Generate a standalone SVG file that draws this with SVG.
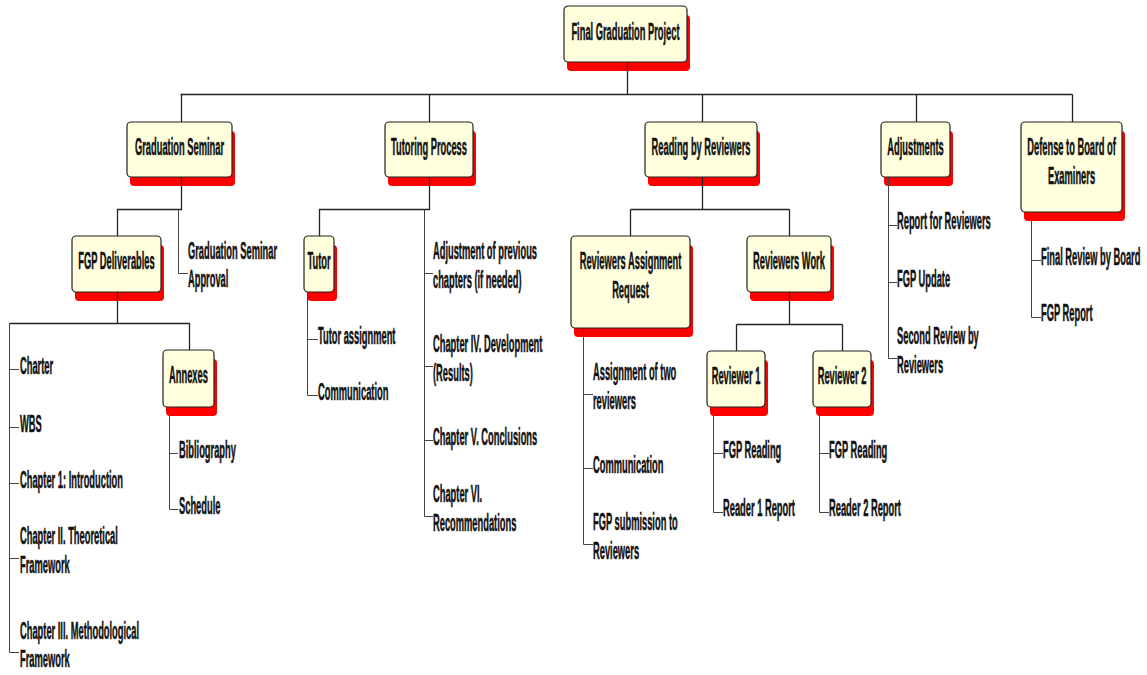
<svg xmlns="http://www.w3.org/2000/svg" width="1147" height="675" viewBox="0 0 1147 675">
  <style>
    .sh { fill: #ff0000; }
    .box { fill: #ffffdd; stroke: #222; stroke-width: 1.2; }
    .t { font-family: "Liberation Sans", Arial, sans-serif; font-weight: bold; font-size: 23.3px; fill: #111; stroke: #111; stroke-width: 0.5; }
    .c { text-anchor: middle; }
    .tree { fill: none; stroke: #222; stroke-width: 1.3; }
    .leaf { fill: none; stroke: #444; stroke-width: 1; }
  </style>
  <rect width="1147" height="675" fill="#ffffff"/>

  <!-- boxes -->
  <g id="n-root">
    <rect class="sh" x="567" y="15" width="123" height="56" rx="4"/>
    <rect class="box" x="564" y="6" width="123" height="56" rx="4"/>
    <text class="t c" transform="translate(625.5,39.5) scale(0.4,1)">Final Graduation Project</text>
  </g>
  <g id="n-seminar">
    <rect class="sh" x="130" y="131" width="105" height="55" rx="4"/>
    <rect class="box" x="127" y="122" width="105" height="55" rx="4"/>
    <text class="t c" transform="translate(179.5,155) scale(0.4,1)">Graduation Seminar</text>
  </g>
  <g id="n-tutoring">
    <rect class="sh" x="388" y="131" width="88" height="55" rx="4"/>
    <rect class="box" x="385" y="122" width="88" height="55" rx="4"/>
    <text class="t c" transform="translate(429,155) scale(0.4,1)">Tutoring Process</text>
  </g>
  <g id="n-reading">
    <rect class="sh" x="648" y="131" width="112" height="55" rx="4"/>
    <rect class="box" x="645" y="122" width="112" height="55" rx="4"/>
    <text class="t c" transform="translate(701,155) scale(0.4,1)">Reading by Reviewers</text>
  </g>
  <g id="n-adjust">
    <rect class="sh" x="884" y="131" width="69" height="55" rx="4"/>
    <rect class="box" x="881" y="122" width="69" height="55" rx="4"/>
    <text class="t c" transform="translate(915.5,155) scale(0.4,1)">Adjustments</text>
  </g>
  <g id="n-defense">
    <rect class="sh" x="1024" y="131" width="101" height="90" rx="4"/>
    <rect class="box" x="1021" y="122" width="101" height="90" rx="4"/>
    <text class="t c" transform="translate(1071.5,155) scale(0.4,1)"><tspan x="0">Defense to Board of</tspan><tspan x="0" dy="29">Examiners</tspan></text>
  </g>
  <g id="n-deliverables">
    <rect class="sh" x="75" y="245" width="89" height="56" rx="4"/>
    <rect class="box" x="72" y="236" width="89" height="56" rx="4"/>
    <text class="t c" transform="translate(116.5,269) scale(0.4,1)">FGP Deliverables</text>
  </g>
  <g id="n-annexes">
    <rect class="sh" x="166" y="359" width="51" height="57" rx="4"/>
    <rect class="box" x="163" y="350" width="51" height="57" rx="4"/>
    <text class="t c" transform="translate(188.5,383) scale(0.4,1)">Annexes</text>
  </g>
  <g id="n-tutor">
    <rect class="sh" x="307" y="245" width="30" height="56" rx="4"/>
    <rect class="box" x="304" y="236" width="30" height="56" rx="4"/>
    <text class="t c" transform="translate(319,269) scale(0.4,1)">Tutor</text>
  </g>
  <g id="n-request">
    <rect class="sh" x="574" y="245" width="119" height="92" rx="4"/>
    <rect class="box" x="571" y="236" width="119" height="92" rx="4"/>
    <text class="t c" transform="translate(630.5,269) scale(0.4,1)"><tspan x="0">Reviewers Assignment</tspan><tspan x="0" dy="29">Request</tspan></text>
  </g>
  <g id="n-work">
    <rect class="sh" x="750" y="245" width="84" height="56" rx="4"/>
    <rect class="box" x="747" y="236" width="84" height="56" rx="4"/>
    <text class="t c" transform="translate(789,269) scale(0.4,1)">Reviewers Work</text>
  </g>
  <g id="n-rev1">
    <rect class="sh" x="710" y="360" width="58" height="56" rx="4"/>
    <rect class="box" x="707" y="351" width="58" height="56" rx="4"/>
    <text class="t c" transform="translate(736,384) scale(0.4,1)">Reviewer 1</text>
  </g>
  <g id="n-rev2">
    <rect class="sh" x="816" y="360" width="58" height="56" rx="4"/>
    <rect class="box" x="813" y="351" width="58" height="56" rx="4"/>
    <text class="t c" transform="translate(842,384) scale(0.4,1)">Reviewer 2</text>
  </g>

  <!-- connectors -->
  <g id="connectors">
    <!-- root to first level -->
    <path class="tree" d="M627.5,62 V94.5 M180.5,94.5 H1072.5 M181.5,94.5 V122 M429.5,94.5 V122 M702.5,94.5 V122 M916.5,94.5 V122 M1072.5,94.5 V122"/>
    <!-- Graduation Seminar -->
    <path class="tree" d="M181.5,177 V209.5 H117.5 V236"/>
    <path class="leaf" d="M178.5,209.5 V273.5 H188"/>
    <!-- FGP Deliverables -->
    <path class="tree" d="M117.5,292 V323.5 M9.5,323.5 H189.5 V350"/>
    <path class="leaf" d="M9.5,323.5 V652.5 M9.5,369.5 H19 M9.5,427.5 H19 M9.5,483.5 H19 M9.5,558.5 H19 M9.5,652.5 H19"/>
    <!-- Annexes -->
    <path class="leaf" d="M169.5,407 V509.5 M169.5,453.5 H178 M169.5,509.5 H178"/>
    <!-- Tutoring Process -->
    <path class="tree" d="M429.5,177 V209.5 H319.5 V236"/>
    <path class="leaf" d="M424.5,209.5 V516.5 M424.5,273.5 H433 M424.5,366.5 H433 M424.5,440.5 H433 M424.5,516.5 H433"/>
    <!-- Tutor -->
    <path class="leaf" d="M307.5,292 V395.5 M307.5,339.5 H318 M307.5,395.5 H318"/>
    <!-- Reading by Reviewers -->
    <path class="tree" d="M702.5,177 V209.5 M630.5,209.5 H789.5 M630.5,209.5 V236 M789.5,209.5 V236"/>
    <!-- Reviewers Assignment Request -->
    <path class="leaf" d="M583.5,328 V544.5 M583.5,394.5 H593 M583.5,468.5 H593 M583.5,544.5 H593"/>
    <!-- Reviewers Work -->
    <path class="tree" d="M789.5,292 V324.5 M736.5,324.5 H842.5 M736.5,324.5 V351 M842.5,324.5 V351"/>
    <!-- Reviewer 1 / Reviewer 2 -->
    <path class="leaf" d="M713.5,407 V512.5 M713.5,453.5 H723 M713.5,512.5 H723"/>
    <path class="leaf" d="M819.5,407 V512.5 M819.5,453.5 H829 M819.5,512.5 H829"/>
    <!-- Adjustments -->
    <path class="leaf" d="M888.5,177 V358.5 M888.5,225.5 H897 M888.5,282.5 H897 M888.5,358.5 H897"/>
    <!-- Defense -->
    <path class="leaf" d="M1031.5,212 V317.5 M1031.5,260.5 H1041 M1031.5,317.5 H1041"/>
  </g>

  <!-- leaf items -->
  <g id="l-approval"><text class="t" transform="translate(188,258.5) scale(0.4,1)"><tspan x="0">Graduation Seminar</tspan><tspan x="0" dy="29">Approval</tspan></text></g>
  <g id="l-charter"><text class="t" transform="translate(20,374) scale(0.4,1)">Charter</text></g>
  <g id="l-wbs"><text class="t" transform="translate(20,432) scale(0.4,1)">WBS</text></g>
  <g id="l-ch1"><text class="t" transform="translate(20,488) scale(0.4,1)">Chapter 1: Introduction</text></g>
  <g id="l-ch2"><text class="t" transform="translate(20,544) scale(0.4,1)"><tspan x="0">Chapter II. Theoretical</tspan><tspan x="0" dy="29">Framework</tspan></text></g>
  <g id="l-ch3"><text class="t" transform="translate(20,638.5) scale(0.4,1)"><tspan x="0">Chapter III. Methodological</tspan><tspan x="0" dy="29">Framework</tspan></text></g>
  <g id="l-biblio"><text class="t" transform="translate(179,458) scale(0.4,1)">Bibliography</text></g>
  <g id="l-schedule"><text class="t" transform="translate(179,514) scale(0.4,1)">Schedule</text></g>
  <g id="l-tutor-assign"><text class="t" transform="translate(318,344) scale(0.4,1)">Tutor assignment</text></g>
  <g id="l-tutor-comm"><text class="t" transform="translate(318,400) scale(0.4,1)">Communication</text></g>
  <g id="l-adj-prev"><text class="t" transform="translate(433,259) scale(0.4,1)"><tspan x="0">Adjustment of previous</tspan><tspan x="0" dy="29">chapters (if needed)</tspan></text></g>
  <g id="l-ch4"><text class="t" transform="translate(433,352) scale(0.4,1)"><tspan x="0">Chapter IV. Development</tspan><tspan x="0" dy="29">(Results)</tspan></text></g>
  <g id="l-ch5"><text class="t" transform="translate(433,445) scale(0.4,1)">Chapter V. Conclusions</text></g>
  <g id="l-ch6"><text class="t" transform="translate(433,502) scale(0.4,1)"><tspan x="0">Chapter VI.</tspan><tspan x="0" dy="29">Recommendations</tspan></text></g>
  <g id="l-assign-two"><text class="t" transform="translate(593,380) scale(0.4,1)"><tspan x="0">Assignment of two</tspan><tspan x="0" dy="29">reviewers</tspan></text></g>
  <g id="l-rev-comm"><text class="t" transform="translate(593,473) scale(0.4,1)">Communication</text></g>
  <g id="l-submission"><text class="t" transform="translate(593,530) scale(0.4,1)"><tspan x="0">FGP submission to</tspan><tspan x="0" dy="29">Reviewers</tspan></text></g>
  <g id="l-r1-reading"><text class="t" transform="translate(723,458) scale(0.4,1)">FGP Reading</text></g>
  <g id="l-r1-report"><text class="t" transform="translate(723,516) scale(0.4,1)">Reader 1 Report</text></g>
  <g id="l-r2-reading"><text class="t" transform="translate(829,458) scale(0.4,1)">FGP Reading</text></g>
  <g id="l-r2-report"><text class="t" transform="translate(829,516) scale(0.4,1)">Reader 2 Report</text></g>
  <g id="l-report-rev"><text class="t" transform="translate(897,229) scale(0.4,1)">Report for Reviewers</text></g>
  <g id="l-fgp-update"><text class="t" transform="translate(897,287) scale(0.4,1)">FGP Update</text></g>
  <g id="l-second-review"><text class="t" transform="translate(897,344) scale(0.4,1)"><tspan x="0">Second Review by</tspan><tspan x="0" dy="29">Reviewers</tspan></text></g>
  <g id="l-final-review"><text class="t" transform="translate(1041,265) scale(0.4,1)">Final Review by Board</text></g>
  <g id="l-fgp-report"><text class="t" transform="translate(1041,321) scale(0.4,1)">FGP Report</text></g>
</svg>
